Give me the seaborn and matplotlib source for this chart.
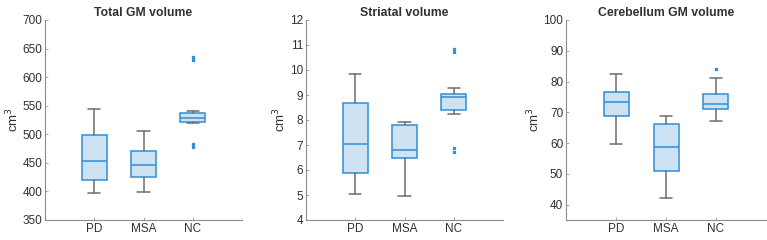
import matplotlib
matplotlib.use("Agg")
import matplotlib.pyplot as plt
import seaborn as sns

# Groups
GROUPS = ["PD", "MSA", "NC"]

# Box statistics (per group: PD, MSA, NC)
# Total GM volume
gm_whislo = [398, 399, 520]
gm_q1 = [420, 426, 522]
gm_med = [454, 447, 529]
gm_q3 = [498, 470, 538]
gm_whishi = [544, 506, 540]
gm_fliers = [[], [], [478, 483, 630, 636]]

# Striatal volume
st_whislo = [5.04, 4.95, 8.23]
st_q1 = [5.88, 6.47, 8.40]
st_med = [7.03, 6.79, 8.93]
st_q3 = [8.69, 7.81, 9.05]
st_whishi = [9.83, 7.92, 9.27]
st_fliers = [[], [], [6.71, 6.89, 10.73, 10.83]]

# Cerebellum GM volume
cb_whislo = [59.6, 42.3, 67.3]
cb_q1 = [68.9, 51.0, 71.1]
cb_med = [73.4, 58.6, 72.6]
cb_q3 = [76.5, 66.1, 75.9]
cb_whishi = [82.6, 68.7, 81.3]
cb_fliers = [[], [], [84.2]]

TITLES = ["Total GM volume", "Striatal volume", "Cerebellum GM volume"]
YLIMS = [(350, 700), (4, 12), (35, 100)]
YTICKS = [range(350, 701, 50), range(4, 13), range(40, 101, 10)]

EDGE = "#2f8fd8"
FILL = "#cde3f3"
WHISK = "#6e6e6e"
TXT = "#303030"

sns.set_theme(style="ticks")
plt.rcParams['font.family'] = ['Liberation Sans', 'DejaVu Sans']


def make_stats(whislo, q1, med, q3, whishi, fliers):
    stats = []
    for i, g in enumerate(GROUPS):
        stats.append({
            'label': g, 'whislo': whislo[i], 'q1': q1[i], 'med': med[i],
            'q3': q3[i], 'whishi': whishi[i], 'fliers': fliers[i],
        })
    return stats


all_stats = [
    make_stats(gm_whislo, gm_q1, gm_med, gm_q3, gm_whishi, gm_fliers),
    make_stats(st_whislo, st_q1, st_med, st_q3, st_whishi, st_fliers),
    make_stats(cb_whislo, cb_q1, cb_med, cb_q3, cb_whishi, cb_fliers),
]

fig = plt.figure(figsize=(7.67, 2.4), dpi=100)
lefts = [45 / 767, 306 / 767, 566 / 767]
widths = [197 / 767, 197 / 767, 200 / 767]

for k in range(3):
    ax = fig.add_axes([lefts[k], 20 / 240, widths[k], 200 / 240])
    ax.bxp(all_stats[k], positions=[1, 2, 3], widths=0.5, patch_artist=True,
           boxprops=dict(facecolor=FILL, edgecolor=EDGE, linewidth=1.1),
           medianprops=dict(color=EDGE, linewidth=1.1),
           whiskerprops=dict(color=WHISK, linewidth=1.1),
           capprops=dict(color=WHISK, linewidth=1.1),
           capwidths=0.25,
           flierprops=dict(marker='s', markersize=1.4, markerfacecolor=EDGE,
                           markeredgecolor=EDGE, linestyle='none'))
    ax.set_xlim(0, 4)
    ax.set_ylim(*YLIMS[k])
    ax.set_yticks(list(YTICKS[k]))
    ax.set_xticks([1, 2, 3])
    ax.set_xticklabels(GROUPS)
    ax.set_title(TITLES[k], fontsize=8.8, fontweight='bold', color=TXT, pad=3)
    ax.set_ylabel("cm$^3$", fontsize=9.5, color=TXT, labelpad=1)
    ax.tick_params(direction='in', length=2, width=0.6, colors='#999999',
                   labelcolor=TXT, labelsize=8.5, pad=2)
    sns.despine(ax=ax)
    for s in ['left', 'bottom']:
        ax.spines[s].set_color('#8c8c8c')
        ax.spines[s].set_linewidth(0.8)

fig.savefig("out.png", dpi=100, facecolor='white')
